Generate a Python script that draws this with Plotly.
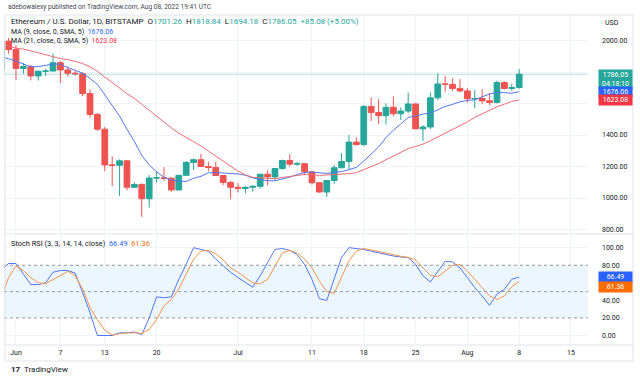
import plotly.graph_objects as go
import pandas as pd

# ---------------- data (ETH/USD, Bitstamp, 1D) ----------------
start_date = "2022-05-30"
end_date = "2022-08-08"

opens = [1813, 1996,
         1942, 1823, 1834, 1775, 1805, 1806, 1859, 1813, 1792, 1789,
         1663, 1530, 1437, 1210, 1208, 1236, 1068, 1086, 995, 1127,
         1128, 1126, 1051, 1144, 1226, 1243, 1200, 1194, 1143, 1099,
         1068, 1060, 1068, 1074, 1151, 1134, 1187, 1238, 1215, 1218,
         1166, 1097, 1038, 1111, 1192, 1232, 1355, 1339, 1581, 1543,
         1523, 1576, 1535, 1552, 1597, 1439, 1451, 1636, 1724, 1722,
         1696,
         1680, 1630, 1632, 1617, 1607, 1733, 1695, 1701.26]
highs = [2010, 2016,
         1970, 1855, 1845, 1808, 1820, 1917, 1870, 1835, 1812, 1797,
         1690, 1540, 1450, 1265, 1245, 1240, 1100, 1093, 1146, 1170,
         1196, 1130, 1145, 1235, 1252, 1280, 1230, 1230, 1145, 1109,
         1095, 1075, 1080, 1152, 1175, 1191, 1244, 1279, 1230, 1220,
         1166, 1097, 1112, 1210, 1285, 1400, 1385, 1590, 1639, 1626,
         1601, 1645, 1575, 1669, 1602, 1462, 1670, 1791, 1776, 1760,
         1755,
         1698, 1686, 1690, 1665, 1745, 1740, 1725, 1818.84]
lows = [1800, 1916,
        1750, 1790, 1747, 1745, 1775, 1805, 1730, 1770, 1775, 1646,
        1510, 1425, 1170, 1076, 1013, 1050, 1063, 880, 940, 1100,
        1110, 1040, 1048, 1143, 1178, 1197, 1170, 1143, 1082, 995,
        1035, 1030, 1040, 1060, 1080, 1115, 1180, 1200, 1205, 1150,
        1085, 1035, 1007, 1091, 1190, 1182, 1333, 1330, 1489, 1470,
        1466, 1520, 1495, 1540, 1438, 1361, 1436, 1620, 1675, 1680,
        1670,
        1605, 1570, 1595, 1590, 1600, 1690, 1680, 1694.18]
closes = [1996, 1942,
          1823, 1834, 1775, 1805, 1806, 1859, 1813, 1792, 1789, 1663,
          1530, 1437, 1210, 1208, 1236, 1068, 1086, 995, 1127, 1128,
          1126, 1051, 1144, 1226, 1243, 1200, 1194, 1143, 1099, 1068,
          1060, 1068, 1074, 1151, 1134, 1187, 1238, 1215, 1218, 1166,
          1097, 1038, 1111, 1192, 1232, 1355, 1339, 1581, 1543, 1523,
          1576, 1535, 1552, 1597, 1439, 1451, 1636, 1724, 1722, 1696,
          1680,
          1630, 1632, 1617, 1607, 1733, 1695, 1700.97, 1786.05]
# closes of May 10 - May 29 (left of the visible window, feed the moving averages)
prior_closes = [2344, 2072, 1961, 2011, 2056, 2145, 2023, 2091, 1914, 2017,
                1959, 1975, 2043, 1972, 1979, 1943, 1800, 1725, 1792, 1813]

stoch_k = [74, 82,
           82, 70, 58, 58, 60, 72, 74, 74, 71, 49,
           26, 0, 0, 0, 3, 3, 4, 1, 20, 44,
           43, 44, 64, 81, 100, 98, 96, 87, 79, 72,
           66, 60, 55, 68, 83, 98, 99, 97, 92, 81,
           64, 42, 40, 64, 89, 100, 99, 98, 96, 94,
           92, 90.5, 89.5, 88.7, 81, 68, 61, 73.5, 84.5, 83.7,
           77,
           66, 54.5, 45, 34.4, 47, 52.6, 64, 66.49]
stoch_d = [43, 66,
           79, 74, 66, 60, 59, 64, 69, 73, 68, 53,
           32, 18, 6, 0.5, 2, 3, 3, 2.5, 7, 18,
           34, 41, 53, 70, 87, 96, 97, 93, 86, 77,
           72, 66, 60, 59, 64, 79, 94, 97, 94, 87,
           77, 62, 50, 48, 66, 85, 96, 99, 97.5, 95.5,
           93.5, 91.7, 90.2, 89, 86, 77, 68.6, 66.8, 73.5, 80,
           81,
           73.5, 64, 54.5, 45, 41, 45, 55.6, 61.36]

ma9_last_label = "1676.06"
ma21_last_label = "1623.08"
countdown = "04:18:10"

tick_dates = ["2022-06-01", "2022-06-07", "2022-06-13", "2022-06-20", "2022-07-01",
              "2022-07-11", "2022-07-18", "2022-07-25", "2022-08-01", "2022-08-08",
              "2022-08-15"]
tick_text = ["Jun", "7", "13", "20", "Jul", "11", "18", "25", "Aug", "8", "15"]
price_ticks = [800, 1000, 1200, 1400, 1600, 1800, 2000]
price_tick_text = ["800.00", "1000.00", "1200.00", "1400.00", "", "", "2000.00"]
stoch_ticks = [0, 20, 40, 60, 80, 100]
stoch_tick_text = ["0.00", "20.00", "40.00", "", "80.00", "100.00"]

# ---------------- derived ----------------
dates = pd.date_range(start_date, end_date, freq="D")
all_closes = pd.Series(prior_closes + closes)
n_prior = len(prior_closes)
ma9 = all_closes.rolling(9).mean().iloc[n_prior:].tolist()
ma21 = all_closes.rolling(21).mean().iloc[n_prior:].tolist()

UP = "#26A69A"
DOWN = "#EF5350"
BLUE = "#2962FF"
RED = "#F23645"
ORANGE = "#FF6D00"
GRID = "#F0F3FA"
TXT = "#131722"
FONT = "Roboto, Arial, sans-serif"
SP = "&nbsp;&nbsp;"

W, H = 640, 380
ML, MR, MT, MB = 4, 7, 14, 19
PW, PH = W - ML - MR, H - MT - MB


def px(x):
    return (x - ML) / PW


def py(y):
    return (H - MB - y) / PH


fig = go.Figure()
fig.add_trace(go.Candlestick(
    x=dates, open=opens, high=highs, low=lows, close=closes,
    increasing=dict(line=dict(color=UP, width=1), fillcolor=UP),
    decreasing=dict(line=dict(color=DOWN, width=1), fillcolor=DOWN),
    whiskerwidth=0, xaxis="x", yaxis="y", hoverinfo="skip", showlegend=False))
fig.add_trace(go.Scatter(x=dates, y=ma9, mode="lines", line=dict(color="#5276F2", width=1),
                         xaxis="x", yaxis="y", showlegend=False, hoverinfo="skip"))
fig.add_trace(go.Scatter(x=dates, y=ma21, mode="lines", line=dict(color="#EF6B73", width=1),
                         xaxis="x", yaxis="y", showlegend=False, hoverinfo="skip"))
fig.add_trace(go.Scatter(x=dates, y=stoch_k, mode="lines", line=dict(color="#5276F2", width=1),
                         xaxis="x2", yaxis="y2", showlegend=False, hoverinfo="skip"))
fig.add_trace(go.Scatter(x=dates, y=stoch_d, mode="lines", line=dict(color="#F5944A", width=1),
                         xaxis="x2", yaxis="y2", showlegend=False, hoverinfo="skip"))

x_range = ["2022-05-30 09:07", "2022-08-17 07:12"]
xdom = [0, px(588)]

common_x = dict(domain=xdom, range=x_range, tickvals=tick_dates, ticktext=tick_text,
                showgrid=True, gridcolor=GRID, gridwidth=1, zeroline=False, showline=False,
                ticks="", fixedrange=True)
fig.update_layout(
    width=W, height=H,
    margin=dict(l=ML, r=MR, t=MT, b=MB),
    paper_bgcolor="white", plot_bgcolor="white",
    font=dict(family=FONT, size=7, color=TXT),
    boxgap=0.12, boxgroupgap=0.12,
    xaxis=dict(**common_x, anchor="y", showticklabels=False,
               rangeslider=dict(visible=False)),
    xaxis2=dict(**common_x, anchor="y2", matches="x", showticklabels=True,
                tickfont=dict(size=7, color=TXT, family=FONT), ticklabelstandoff=3),
    yaxis=dict(domain=[py(233), 1], range=[777.8, 2168.3], side="right", anchor="x",
               tickvals=price_ticks, ticktext=price_tick_text, showgrid=True, gridcolor=GRID,
               zeroline=False, ticks="", ticklabelstandoff=13, fixedrange=True,
               tickfont=dict(size=7, color=TXT, family=FONT)),
    yaxis2=dict(domain=[py(344), py(235)], range=[-9.68, 114.46], side="right", anchor="x2",
                tickvals=stoch_ticks, ticktext=stoch_tick_text, showgrid=True, gridcolor=GRID,
                zeroline=False, ticks="", ticklabelstandoff=13, fixedrange=True,
                tickfont=dict(size=7, color=TXT, family=FONT)),
)

shapes = []
# stoch band
shapes.append(dict(type="rect", xref="x2 domain", yref="y2", x0=0, x1=1, y0=20, y1=80,
                   fillcolor="rgba(33,150,243,0.09)", line=dict(width=0), layer="below"))
for lvl in (80, 50, 20):
    shapes.append(dict(type="line", xref="x2 domain", yref="y2", x0=0, x1=1, y0=lvl, y1=lvl,
                       line=dict(color="#9598A1", width=1, dash="3px,3px")))
# last price line
shapes.append(dict(type="line", xref="x domain", yref="y", x0=0, x1=1,
                   y0=closes[-1], y1=closes[-1],
                   line=dict(color="rgba(38,166,154,0.35)", width=1)))
# frame and pane separators
shapes.append(dict(type="rect", xref="paper", yref="paper", x0=px(5), x1=px(633),
                   y0=py(361), y1=py(15), line=dict(color="#E0E3EB", width=1)))
shapes.append(dict(type="line", xref="paper", yref="paper", x0=px(5), x1=px(633),
                   y0=py(234), y1=py(234), line=dict(color="#E0E3EB", width=1)))
shapes.append(dict(type="line", xref="paper", yref="paper", x0=px(5), x1=px(633),
                   y0=py(345), y1=py(345), line=dict(color="#E0E3EB", width=1)))
fig.update_layout(shapes=shapes)

chg = closes[-1] - closes[-2]
pct = chg / closes[-2] * 100


def tc(v, c=UP):
    return f"<span style='color:{c}'>{v}</span>"


ann = []


def add_text(x, y, text, size=7, color=TXT, xanchor="left", **kw):
    ann.append(dict(xref="paper", yref="paper", x=px(x), y=py(y), text=text,
                    showarrow=False, xanchor=xanchor, yanchor="middle",
                    font=dict(family=FONT, size=size, color=color), **kw))


add_text(6, 7, "adebowalexy published on TradingView.com, Aug 08, 2022 19:41 UTC",
         size=6.6, color="#434651")
add_text(9, 22, "Ethereum / U.S. Dollar, 1D, BITSTAMP" + SP +
         f"O{tc(f'{opens[-1]:.2f}')}{SP}H{tc(f'{highs[-1]:.2f}')}{SP}"
         f"L{tc(f'{lows[-1]:.2f}')}{SP}C{tc(f'{closes[-1]:.2f}')}{SP}"
         f"{tc(f'{chg:+.2f} ({pct:+.2f}%)')}", size=8)
add_text(9, 32, f"MA (9, close, 0, SMA, 5){SP}{tc(ma9_last_label, BLUE)}")
add_text(9, 41, f"MA (21, close, 0, SMA, 5){SP}{tc(ma21_last_label, RED)}")
add_text(9, 243, f"Stoch RSI (3, 3, 14, 14, close){SP}{tc(f'{stoch_k[-1]:.2f}', BLUE)}{SP}"
         f"{tc(f'{stoch_d[-1]:.2f}', ORANGE)}", size=7.4)
add_text(603, 23, "USD")
add_text(22, 369, "TradingView", size=8, color=TXT)
add_text(9, 369, "<b>17</b>", size=8, color=TXT)


def box(yref, yval, text, bg, yshift=0, yanchor="middle"):
    ann.append(dict(xref="paper", yref=yref, x=px(598), y=yval, text=text, showarrow=False,
                    xanchor="left", yanchor=yanchor, bgcolor=bg, borderpad=1, width=31,
                    align="center", yshift=yshift,
                    font=dict(family=FONT, size=7, color="white")))


box("y", closes[-1], f"{closes[-1]:.2f}<br>{countdown}", UP, yshift=5, yanchor="top")
box("y", ma9[-1], ma9_last_label, BLUE)
box("y", ma21[-1], ma21_last_label, RED)
box("y2", stoch_k[-1], f"{stoch_k[-1]:.2f}", BLUE)
box("y2", stoch_d[-1], f"{stoch_d[-1]:.2f}", ORANGE, yshift=-5)

fig.update_layout(annotations=ann)
fig.write_html("out.html", config={"displayModeBar": False},
               post_script="document.body.style.margin='0';document.body.style.overflow='hidden';")
